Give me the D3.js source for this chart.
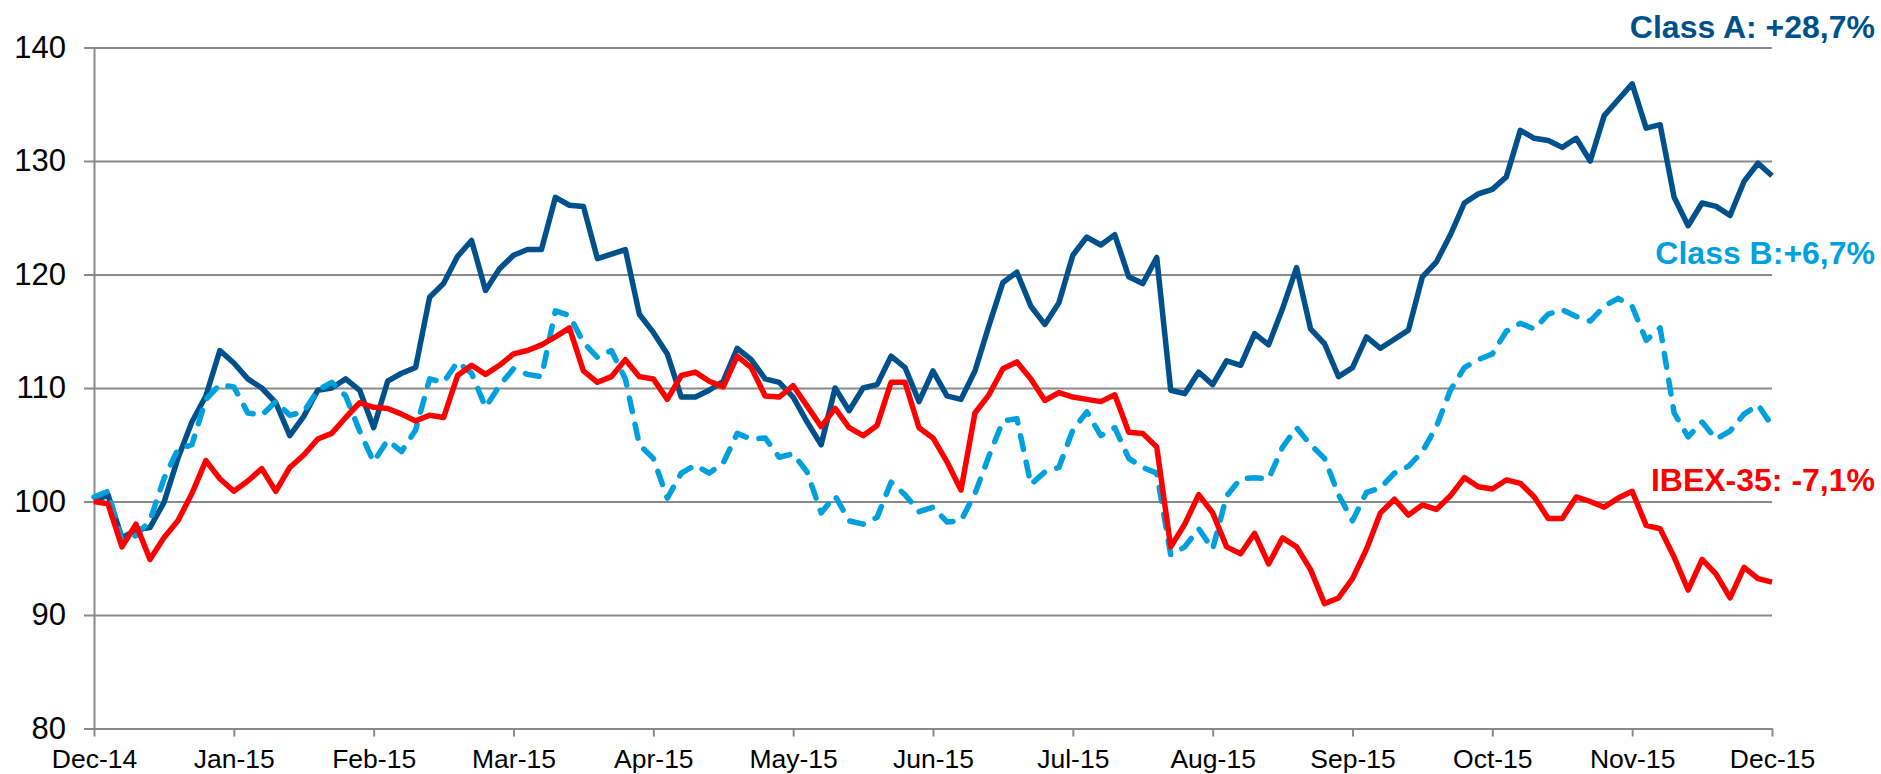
<!DOCTYPE html>
<html>
<head>
<meta charset="utf-8">
<script src="https://cdn.jsdelivr.net/npm/d3@7"></script>
<style>
	body { margin: 0; background: #fff; }
	svg { display: block; font-family: "Liberation Sans", Arial, sans-serif; }
	.grid line, .y.axis line, .x.axis line { stroke: #8a8a8a; stroke-width: 2; }
	.y.axis path, .x.axis path { stroke: #8a8a8a; stroke-width: 2; }
	.y.axis text { font-size: 31px; fill: #000; }
	.x.axis text { font-size: 26.5px; fill: #000; }
	.note { font-size: 32px; font-weight: bold; }
</style>
</head>
<body>
<div id="chart"></div>
<script>
/*jshint esversion: 6 */

// month labels, one every 10 points
var months = ["Dec-14", "Jan-15", "Feb-15", "Mar-15", "Apr-15", "May-15", "Jun-15",
	"Jul-15", "Aug-15", "Sep-15", "Oct-15", "Nov-15", "Dec-15"];

var yTicks = [80, 90, 100, 110, 120, 130, 140];

// base 100
var classA = [
	100.0, 100.6, 96.8, 97.5, 97.7, 99.9, 103.8, 107.0, 109.3, 113.3,
	112.2, 110.8, 110.0, 108.7, 105.8, 107.5, 109.8, 110.0, 110.8, 109.8,
	106.5, 110.6, 111.3, 111.8, 118.0, 119.2, 121.6, 123.0, 118.6, 120.5,
	121.7, 122.2, 122.2, 126.8, 126.1, 126.0, 121.4, 121.8, 122.2, 116.5,
	114.9, 113.0, 109.2, 109.2, 109.8, 110.6, 113.5, 112.5, 110.8, 110.5,
	109.2, 107.0, 105.0, 110.0, 108.0, 110.0, 110.3, 112.8, 111.8, 108.8,
	111.5, 109.3, 109.0, 111.5, 115.5, 119.3, 120.2, 117.2, 115.6, 117.5,
	121.7, 123.3, 122.6, 123.5, 119.8, 119.2, 121.5, 109.8, 109.5, 111.4,
	110.3, 112.4, 112.0, 114.8, 113.8, 117.0, 120.6, 115.2, 113.9, 111.0,
	111.8, 114.5, 113.5, 114.3, 115.1, 119.8, 121.1, 123.5, 126.3, 127.1,
	127.5, 128.6, 132.7, 132.0, 131.8, 131.2, 132.0, 130.0, 134.0, 135.4,
	136.8, 132.9, 133.2, 126.8, 124.3, 126.3, 126.0, 125.2, 128.2, 129.8,
	128.7
];

var classB = [
	100.4, 100.9, 96.5, 97.0, 98.3, 102.0, 104.6, 105.0, 109.0, 110.3,
	110.1, 107.8, 107.6, 108.8, 107.6, 107.9, 109.8, 110.5, 109.3, 106.2,
	103.5, 105.4, 104.4, 106.3, 110.8, 110.5, 112.3, 111.3, 108.3, 110.2,
	111.7, 111.2, 111.0, 116.8, 116.4, 114.0, 112.7, 113.3, 110.8, 105.0,
	103.8, 100.3, 102.5, 103.2, 102.5, 103.4, 106.0, 105.5, 105.6, 103.9,
	104.2, 102.6, 99.0, 100.5, 98.3, 98.0, 98.6, 101.7, 100.6, 99.1,
	99.5, 98.2, 98.3, 100.7, 104.0, 107.1, 107.3, 101.5, 102.6, 103.0,
	106.3, 107.9, 105.8, 106.5, 103.8, 103.0, 102.5, 95.3, 96.0, 97.6,
	95.8, 100.5, 102.0, 102.1, 102.0, 104.8, 106.5, 105.0, 103.8, 100.6,
	98.3, 100.8, 101.2, 102.5, 103.1, 104.4, 106.6, 109.8, 111.8, 112.5,
	113.0, 115.0, 115.7, 115.2, 116.5, 116.9, 116.3, 115.9, 117.2, 117.9,
	117.2, 114.2, 115.3, 107.8, 105.7, 107.0, 105.5, 106.2, 107.7, 108.5,
	106.7
];

var ibex = [
	100.0, 99.8, 96.0, 98.0, 94.9, 96.8, 98.3, 100.7, 103.6, 102.0,
	100.9, 101.8, 102.9, 100.9, 103.0, 104.1, 105.5, 106.0, 107.4, 108.7,
	108.3, 108.2, 107.7, 107.1, 107.6, 107.4, 111.1, 112.0, 111.2, 112.0,
	113.0, 113.3, 113.8, 114.5, 115.3, 111.5, 110.5, 111.0, 112.5, 111.0,
	110.8, 109.0, 111.1, 111.4, 110.6, 110.1, 112.8, 111.8, 109.3, 109.2,
	110.2, 108.4, 106.6, 108.2, 106.5, 105.8, 106.7, 110.5, 110.5, 106.5,
	105.6, 103.5, 101.0, 107.8, 109.4, 111.7, 112.3, 110.8, 108.9, 109.6,
	109.2, 109.0, 108.8, 109.4, 106.1, 106.0, 104.8, 96.0, 98.0, 100.6,
	99.0, 96.0, 95.4, 97.2, 94.5, 96.8, 96.0, 94.0, 91.0, 91.5,
	93.2, 95.8, 99.0, 100.2, 98.8, 99.7, 99.3, 100.5, 102.1, 101.3,
	101.1, 101.9, 101.6, 100.4, 98.5, 98.5, 100.4, 100.0, 99.5, 100.3,
	100.9, 97.9, 97.6, 95.1, 92.2, 94.9, 93.6, 91.5, 94.2, 93.2,
	92.9
];

var seriesNames = ["Class A: +28,7%", "Class B:+6,7%", "IBEX-35: -7,1%"];


var W = 1881, H = 774;
var margin = { top: 47.5, right: 109, bottom: 45.5, left: 94 };
var width = W - margin.left - margin.right;
var height = H - margin.top - margin.bottom;

var svg = d3.select("#chart").append("svg")
	.attr("width", W)
	.attr("height", H);

var g = svg.append("g")
	.attr("transform", "translate(" + margin.left + "," + margin.top + ")");

var x = d3.scaleLinear().domain([0, classA.length - 1]).range([0, width]);
var y = d3.scaleLinear().domain([80, 140]).range([height, 0]);


//************ Y AXIS + GRID ************

var yAxis = d3.axisLeft(y)
	.tickValues(yTicks)
	.tickSizeInner(10)
	.tickSizeOuter(0)
	.tickPadding(18);

var yG = g.append("g").attr("class", "y axis").call(yAxis);
// stretch tick lines across the plot
yG.selectAll(".tick line").attr("x1", -10).attr("x2", width);


//************ X AXIS ************

var xAxis = d3.axisBottom(x)
	.tickValues(d3.range(0, classA.length, 10))
	.tickFormat(function(d, i) { return months[i]; })
	.tickSizeInner(8)
	.tickSizeOuter(0)
	.tickPadding(13);

g.append("g")
	.attr("class", "x axis")
	.attr("transform", "translate(0," + height + ")")
	.call(xAxis);


//************ LINES ************

var line = d3.line()
	.x(function(d, i) { return x(i); })
	.y(function(d) { return y(d); });

g.append("path")
	.datum(classA)
	.attr("fill", "none")
	.attr("stroke", "#00508c")
	.attr("stroke-width", 5.5)
	.attr("stroke-linejoin", "round")
	.attr("d", line);

g.append("path")
	.datum(classB)
	.attr("fill", "none")
	.attr("stroke", "#00a0df")
	.attr("stroke-width", 5.5)
	.attr("stroke-linejoin", "round")
	.attr("stroke-linecap", "round")
	.attr("stroke-dasharray", "14,13")
	.attr("d", line);

g.append("path")
	.datum(ibex)
	.attr("fill", "none")
	.attr("stroke", "#ff0000")
	.attr("stroke-width", 5.5)
	.attr("stroke-linejoin", "round")
	.attr("d", line);


//************ END LABELS ************

svg.append("text").attr("class", "note")
	.attr("x", 1875).attr("y", 38)
	.attr("text-anchor", "end")
	.attr("fill", "#00508c")
	.text(seriesNames[0]);

svg.append("text").attr("class", "note")
	.attr("x", 1875).attr("y", 264)
	.attr("text-anchor", "end")
	.attr("fill", "#00a0df")
	.text(seriesNames[1]);

svg.append("text").attr("class", "note")
	.attr("x", 1875).attr("y", 491)
	.attr("text-anchor", "end")
	.attr("fill", "#ff0000")
	.text(seriesNames[2]);

</script>
</body>
</html>
